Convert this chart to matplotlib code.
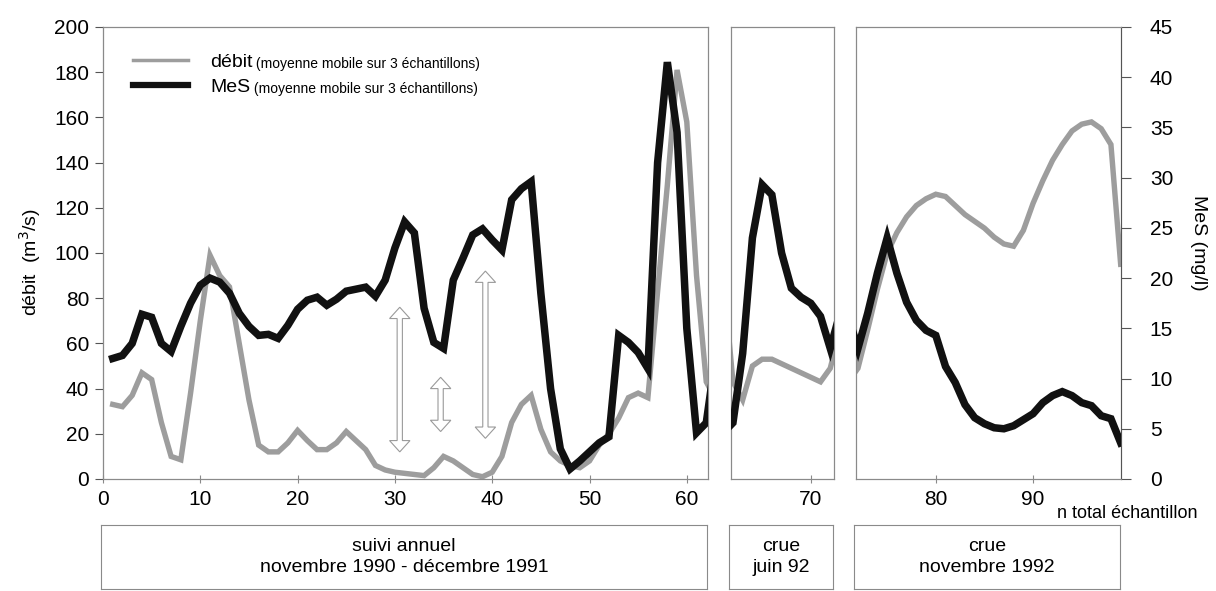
import matplotlib
matplotlib.use("Agg")
import matplotlib.pyplot as plt
import numpy as np
from matplotlib.patches import Polygon
from matplotlib.lines import Line2D

plt.rcParams['font.family'] = ['Liberation Sans Narrow', 'Liberation Sans', 'DejaVu Sans']

# sample number 1..99
n = np.arange(1, 100)
debit = [33, 32, 37, 47, 44, 25, 10, 8.5, 38, 70,
         99, 90, 85, 60, 35, 15, 12, 12, 16, 21.5,
         17, 13, 13, 16, 21, 17, 13, 6, 4, 3,
         2.5, 2, 1.5, 5, 10, 8, 5, 2, 1, 3,
         10, 25, 33, 37, 22, 12, 8, 6, 5, 8,
         15, 20, 27, 36, 38, 36, 83, 130, 181, 158,
         90, 43, 35, 50, 53, 53, 51, 49, 47, 45,
         43, 49, 66, 84, 100, 109, 116, 121, 124, 126,
         125, 121, 117, 114, 111, 107, 104, 103, 110, 122,
         132, 141, 148, 154, 157, 158, 155, 148, 95]
mes = [12.0, 12.3, 13.5, 16.4, 16.1, 13.5, 12.7, 15.2, 17.5, 19.3,
       20.0, 19.6, 18.5, 16.5, 15.2, 14.3, 14.4, 14.0, 15.3, 16.9,
       17.8, 18.1, 17.3, 17.9, 18.7, 18.9, 19.1, 18.2, 19.8, 23.0,
       25.6, 24.5, 17.0, 13.6, 13.0, 19.8, 22.0, 24.3, 24.9, 23.8,
       22.8, 27.8, 28.9, 29.6, 18.5, 9.0, 3.0, 1.0, 1.8, 2.7,
       3.6, 4.2, 14.3, 13.6, 12.6, 11.0, 31.5, 41.5, 34.5, 15.0,
       4.6, 5.6, 12.5, 24.0, 29.3, 28.3, 22.5, 19.0, 18.1, 17.5,
       16.2, 13.0, 16.5, 20.5, 24.0, 20.5, 17.6, 15.8, 14.8, 14.3,
       11.2, 9.6, 7.4, 6.1, 5.5, 5.1, 5.0, 5.3, 5.9, 6.5,
       7.6, 8.3, 8.7, 8.3, 7.6, 7.3, 6.3, 6.0, 3.6]

panel_xlim = [(0, 62.2), (61.8, 72.4), (71.8, 99.0)]
panel_ticks = [[0, 10, 20, 30, 40, 50, 60], [70], [80, 90]]
panel_left = [103, 731, 856]
panel_labels = ["suivi annuel\nnovembre 1990 - décembre 1991",
                "crue\njuin 92",
                "crue\nnovembre 1992"]

# hollow double arrows in the first panel: x, low end, high end (débit units)
arrow_x = [30.5, 34.7, 39.3]
arrow_lo = [12, 21, 18]
arrow_hi = [76, 45, 92]

W, H = 1216, 591
fig = plt.figure(figsize=(W / 100, H / 100), dpi=100)
scale = 9.73  # px per sample
top_px, bot_px = 27, 479
frame_col = '#8a8a8a'
grey = '#9d9d9d'
black = '#111111'

axes = []
for i, (xl, tk, lpx) in enumerate(zip(panel_xlim, panel_ticks, panel_left)):
    w = (xl[1] - xl[0]) * scale
    ax = fig.add_axes([lpx / W, 1 - bot_px / H, w / W, (bot_px - top_px) / H])
    ax2 = ax.twinx()
    ax.plot(n, debit, color=grey, lw=3.9, solid_joinstyle='miter', zorder=2)
    ax2.plot(n, mes, color=black, lw=5.4, solid_joinstyle='miter', zorder=3)
    ax.set_xlim(*xl)
    ax.set_ylim(0, 200)
    ax2.set_ylim(0, 45)
    ax.set_xticks(tk)
    ax.tick_params(axis='x', direction='inout', length=6, width=0.8, color=frame_col,
                   labelsize=15, pad=5)
    for a in (ax, ax2):
        for s in a.spines.values():
            s.set_color(frame_col)
            s.set_linewidth(0.8)
    if i == 0:
        ax.set_yticks(np.arange(0, 201, 20))
        ax.tick_params(axis='y', direction='out', length=6, width=0.8, color='#555555',
                       labelsize=15, pad=4)
        ax.spines['left'].set_color('#555555')
    else:
        ax.set_yticks([])
    if i == 2:
        ax2.set_yticks(np.arange(0, 46, 5))
        ax2.tick_params(axis='y', direction='out', length=7, width=0.8, color='#555555',
                        labelsize=15, pad=14)
        ax2.spines['right'].set_color('#555555')
    else:
        ax2.set_yticks([])
    axes.append(ax)

    # box with period label under each panel
    bx = fig.add_axes([(lpx - 2) / W, 1 - 589 / H, (w + 1) / W, 64 / H])
    bx.set_xticks([])
    bx.set_yticks([])
    for s in bx.spines.values():
        s.set_color(frame_col)
        s.set_linewidth(0.8)
    bx.text(0.5, 0.5, panel_labels[i], ha='center', va='center', fontsize=14,
            linespacing=1.3, transform=bx.transAxes)

# arrows
ax = axes[0]
hw, hl, sw = 1.05, 5.0, 0.27
for x, y0, y1 in zip(arrow_x, arrow_lo, arrow_hi):
    verts = [(x, y1), (x + hw, y1 - hl), (x + sw, y1 - hl), (x + sw, y0 + hl),
             (x + hw, y0 + hl), (x, y0), (x - hw, y0 + hl), (x - sw, y0 + hl),
             (x - sw, y1 - hl), (x - hw, y1 - hl)]
    ax.add_patch(Polygon(verts, closed=True, facecolor='white', edgecolor='#9a9a9a',
                         lw=0.8, zorder=1))

# legend drawn by hand
fig.add_artist(Line2D([133 / W, 188 / W], [1 - 60 / H, 1 - 60 / H], color=grey, lw=2.5))
fig.add_artist(Line2D([133 / W, 188 / W], [1 - 85 / H, 1 - 85 / H], color=black, lw=4.5))
t1 = fig.text(210 / W, 1 - 67 / H, "débit", fontsize=14, va='baseline')
t2 = fig.text(210 / W, 1 - 92 / H, "MeS", fontsize=14, va='baseline')
for t in (t1, t2):
    ax.annotate(" (moyenne mobile sur 3 échantillons)", xy=(1, 0), xycoords=t,
                fontsize=10, va='bottom', ha='left')

fig.text(30 / W, 1 - 262 / H, "débit  (m$^3$/s)", rotation=90, ha='center', va='center',
         fontsize=14)
fig.text(1198 / W, 1 - 243 / H, "MeS (mg/l)", rotation=270, ha='center', va='center',
         fontsize=14)
fig.text(1057 / W, 1 - 513 / H, "n total échantillon", ha='left', va='center', fontsize=13)

fig.savefig("out.png", dpi=100)
